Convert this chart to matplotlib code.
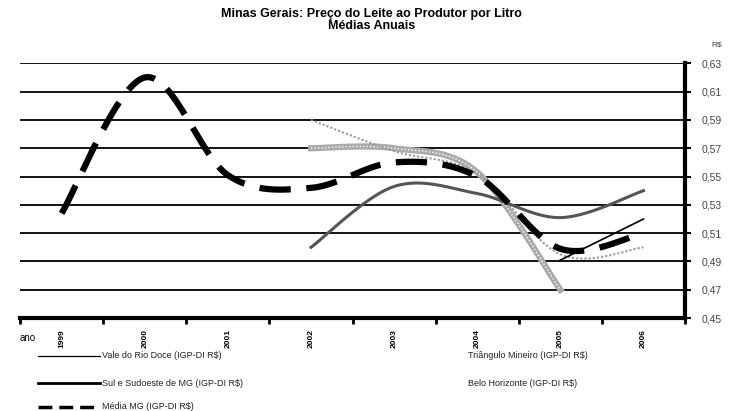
import numpy as np
import matplotlib.pyplot as plt

plt.rcParams['font.family'] = ['Liberation Sans', 'DejaVu Sans']

anos = ['1999', '2000', '2001', '2002', '2003', '2004', '2005', '2006']
media_mg = [0.524, 0.620, 0.551, 0.542, 0.560, 0.550, 0.499, 0.510]
sul_sudoeste = [None, None, None, 0.500, 0.543, 0.538, 0.521, 0.540]
vale_rio_doce = [None, None, None, None, None, None, 0.491, 0.520]
triangulo = [None, None, None, 0.590, 0.568, 0.552, 0.495, 0.500]
belo_horizonte = [None, None, None, 0.570, 0.570, 0.553, 0.470, None]
yticks = [0.45, 0.47, 0.49, 0.51, 0.53, 0.55, 0.57, 0.59, 0.61, 0.63]


def smooth(vals, n=30):
    # excel-like smoothed line through the points
    pts = [(i, v) for i, v in enumerate(vals) if v is not None]
    x = np.array([p[0] for p in pts], float)
    y = np.array([p[1] for p in pts], float)
    if len(x) < 3:
        return x, y
    xs, ys = [], []
    for i in range(len(x) - 1):
        p0 = (x[max(i - 1, 0)], y[max(i - 1, 0)])
        p1 = (x[i], y[i])
        p2 = (x[i + 1], y[i + 1])
        p3 = (x[min(i + 2, len(x) - 1)], y[min(i + 2, len(x) - 1)])
        c1 = (p1[0] + (p2[0] - p0[0]) / 6, p1[1] + (p2[1] - p0[1]) / 6)
        c2 = (p2[0] - (p3[0] - p1[0]) / 6, p2[1] - (p3[1] - p1[1]) / 6)
        t = np.linspace(0, 1, n)
        for a, b in ((0, xs), (1, ys)):
            b.extend((1 - t) ** 3 * p1[a] + 3 * (1 - t) ** 2 * t * c1[a]
                     + 3 * (1 - t) * t ** 2 * c2[a] + t ** 3 * p2[a])
    return np.array(xs), np.array(ys)


fig = plt.figure(figsize=(7.43, 4.11), dpi=100)
ax = fig.add_axes([0.027, 0.226, 0.895, 0.620])

for v in yticks[1:]:
    ax.axhline(v, color='black', lw=1.3, zorder=1)

x, y = smooth(belo_horizonte)
ax.plot(x, y, color='#aaaaaa', lw=4.5, zorder=2)
ax.plot(x, y, color='white', lw=1, ls=(0, (1, 1.5)), zorder=2)
x, y = smooth(triangulo)
ax.plot(x, y, color='#999999', lw=1.5, ls=(0, (1, 1)), zorder=3)
x, y = smooth(sul_sudoeste)
ax.plot(x, y, color='#555555', lw=2.2, zorder=3)
x, y = smooth(vale_rio_doce)
ax.plot(x, y, color='black', lw=1.2, zorder=3)
x, y = smooth(media_mg)
ax.plot(x, y, color='black', lw=4.5, ls=(0, (5, 2.5)), zorder=4)

ax.set_xlim(-0.5, len(anos) - 0.5)
ax.set_ylim(0.45, 0.63)
ax.set_yticks(yticks)
ax.set_yticklabels([f'{v:.2f}'.replace('.', ',') for v in yticks],
                   fontsize=7.5, color='#444444')
ax.yaxis.tick_right()
ax.tick_params(axis='y', length=4, width=1.5, pad=8)
ax.set_xticks(range(len(anos)))
ax.set_xticklabels(anos, rotation=90, fontsize=6, fontweight='bold')
ax.tick_params(axis='x', length=0, pad=8)
ax.set_xticks(np.arange(-0.5, len(anos)), minor=True)
ax.tick_params(axis='x', which='minor', length=4, width=2, direction='out')

for s in ['top', 'left']:
    ax.spines[s].set_visible(False)
ax.spines['right'].set_linewidth(3)
ax.spines['bottom'].set_linewidth(3)

fig.text(0.5, 0.952, 'Minas Gerais: Preço do Leite ao Produtor por Litro\nMédias Anuais',
         ha='center', va='center', fontsize=9, fontweight='bold', linespacing=0.95)
fig.text(0.965, 0.888, 'R$', fontsize=6, color='#444444', ha='center')
fig.text(0.027, 0.178, 'ano', fontsize=7, va='center')

# legend drawn by hand
lx0, lx1, tx = 0.051, 0.134, 0.137
fig.add_artist(plt.Line2D([lx0, lx1], [0.134, 0.134], color='black', lw=0.9))
fig.text(tx, 0.134, 'Vale do Rio Doce (IGP-DI R$)', fontsize=6.5, va='center', color='#222222')
fig.add_artist(plt.Line2D([lx0, lx1], [0.068, 0.068], color='black', lw=2))
fig.text(tx, 0.068, 'Sul e Sudoeste de MG (IGP-DI R$)', fontsize=6.5, va='center', color='#222222')
fig.add_artist(plt.Line2D([lx0, lx1], [0.01, 0.01], color='black', lw=2.5, ls=(0, (4, 2))))
fig.text(tx, 0.01, 'Média MG (IGP-DI R$)', fontsize=6.5, va='center', color='#222222')
fig.text(0.63, 0.134, 'Triângulo Mineiro (IGP-DI R$)', fontsize=6.5, va='center', color='#222222')
fig.text(0.63, 0.068, 'Belo Horizonte (IGP-DI R$)', fontsize=6.5, va='center', color='#222222')

fig.savefig('out.png', dpi=100)
